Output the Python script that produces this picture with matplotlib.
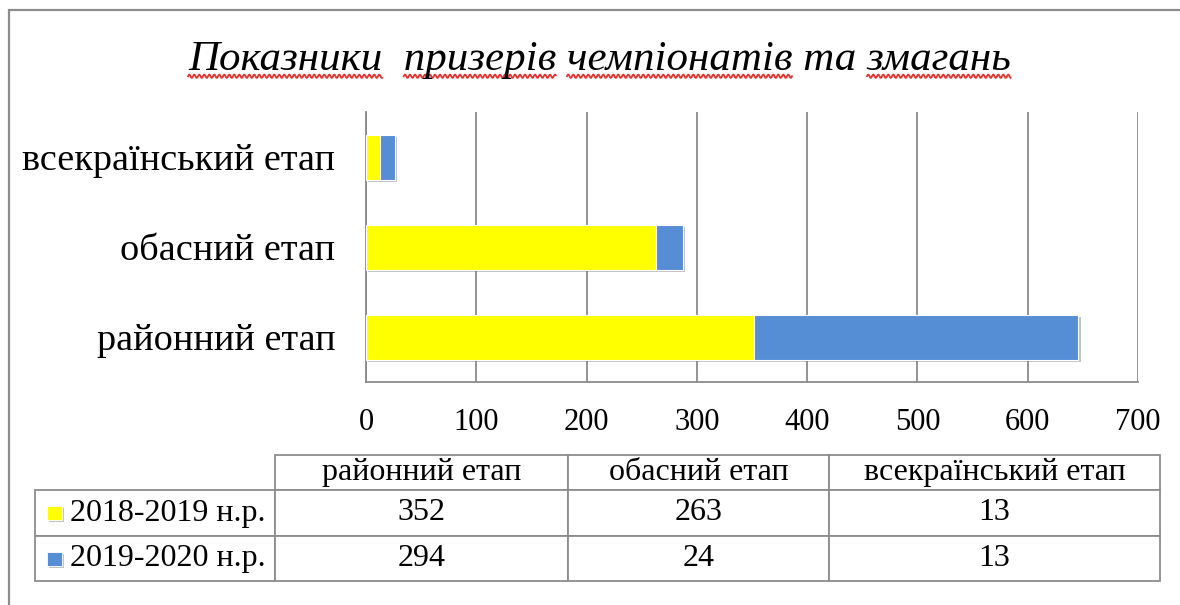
import numpy as np
import matplotlib.pyplot as plt
from matplotlib.table import Table
from matplotlib.patches import Rectangle
from matplotlib.lines import Line2D
import matplotlib.patheffects as pe

categories = ['районний етап', 'обасний етап', 'всекраїнський етап']
series = ['2018-2019 н.р.', '2019-2020 н.р.']
v2018 = [352, 263, 13]
v2019 = [294, 24, 13]
colors = ['#FFFF00', '#558ED5']
xticks = [0, 100, 200, 300, 400, 500, 600, 700]
title = 'Показники  призерів чемпіонатів та змагань'
underlined = ['Показники', 'призерів', 'чемпіонатів', 'змагань']

W, H = 1180, 605
fig = plt.figure(figsize=(W / 100, H / 100), dpi=100)
serif = ['Liberation Serif', 'DejaVu Serif']
grid_c = '#8a8a8a'


def fx(px):
    return px / W


def fy(py):
    return 1 - py / H


# outer frame (only left/top edges visible in the reference)
fig.patches.append(Rectangle((fx(9), -0.05), 1.2, fy(10) + 0.05, transform=fig.transFigure,
                             fill=False, edgecolor='#8c8c8c', lw=1.6))

# bar chart
ax = fig.add_axes([fx(366), fy(382), fx(1138) - fx(366), fy(112) - fy(382)])
y = np.arange(len(categories))
shadow = [pe.SimplePatchShadow(offset=(1.5, -1.5), shadow_rgbFace='#555555', alpha=0.35), pe.Normal()]
b1 = ax.barh(y, v2018, height=0.5, color=colors[0], edgecolor='white', lw=0.8, zorder=3)
b2 = ax.barh(y, v2019, left=v2018, height=0.5, color=colors[1], edgecolor='white', lw=0.8, zorder=3)
for b in list(b1) + list(b2):
    b.set_path_effects(shadow)

ax.set_xlim(0, 700)
ax.set_ylim(-0.5, len(categories) - 0.5)
ax.set_xticks(xticks)
ax.set_xticklabels([str(t) for t in xticks], fontsize=22, family=serif)
ax.set_yticks(y)
ax.set_yticklabels(categories, fontsize=27.5, family=serif)
ax.tick_params(axis='x', length=0, pad=19)
ax.tick_params(axis='y', length=0, pad=22)
ax.grid(axis='x', color=grid_c, lw=1.3, zorder=0)
ax.set_axisbelow(True)
for s in ['top', 'right']:
    ax.spines[s].set_visible(False)
for s in ['left', 'bottom']:
    ax.spines[s].set_color(grid_c)
    ax.spines[s].set_linewidth(1.3)

# data table
tl, tr, tt, tb_ = 35, 1160, 455, 581
tax = fig.add_axes([fx(tl), fy(tb_), fx(tr) - fx(tl), fy(tt) - fy(tb_)])
tax.axis('off')
col_w = [240, 293, 261, 331]
row_h = [35, 46, 45]
tab = Table(tax, bbox=[0, 0, 1, 1])
for j, cat in enumerate(categories):
    tab.add_cell(0, j + 1, col_w[j + 1], row_h[0], text=cat, loc='center')
for i, name in enumerate(series):
    vals = [v2018, v2019][i]
    c = tab.add_cell(i + 1, 0, col_w[0], row_h[i + 1], text=name, loc='right')
    c.PAD = 0.04
    for j in range(len(categories)):
        tab.add_cell(i + 1, j + 1, col_w[j + 1], row_h[i + 1], text=str(vals[j]), loc='center')
tab.auto_set_font_size(False)
for cell in tab.get_celld().values():
    cell.set_edgecolor('#8c8c8c')
    cell.set_linewidth(1.3)
    cell.get_text().set_fontsize(23)
    cell.get_text().set_family(serif)
tax.add_table(tab)

# legend keys inside row-label cells
tot_w, tot_h = sum(col_w), sum(row_h)
ytop = row_h[0]
for i in range(len(series)):
    cy = ytop + row_h[i + 1] / 2
    tax.add_patch(Rectangle((12 / tot_w, 1 - (cy + 7) / tot_h), 15 / tot_w, 14 / tot_h,
                            transform=tax.transAxes, facecolor=colors[i], edgecolor='white',
                            lw=0.6, path_effects=shadow, clip_on=False))
    ytop += row_h[i + 1]

# title
fs_title = 31
t = fig.text(0.508, fy(60), title, ha='center', va='center', fontsize=fs_title,
             family=serif, style='italic')

# spell-check style wavy underline under the words
fig.canvas.draw()
r = fig.canvas.get_renderer()
bb = t.get_window_extent(r)
pos = 0
for w in underlined:
    k = title.index(w, pos)
    pos = k + len(w)
    pre = fig.text(0, 0, title[:k], fontsize=fs_title, family=serif, style='italic')
    wd = fig.text(0, 0, w, fontsize=fs_title, family=serif, style='italic')
    x0 = bb.x0 + (pre.get_window_extent(r).width if k > 0 else 0)
    x1 = x0 + wd.get_window_extent(r).width
    pre.remove()
    wd.remove()
    xs = np.arange(x0, x1, 0.5)
    ys = bb.y0 + 3 + 1.7 * np.sin((xs - x0) * np.pi / 2.5)
    fig.lines.append(Line2D(xs / W, ys / H, transform=fig.transFigure, color='#e8322e', lw=1.3))

fig.savefig('out.png', dpi=100, facecolor='white')
